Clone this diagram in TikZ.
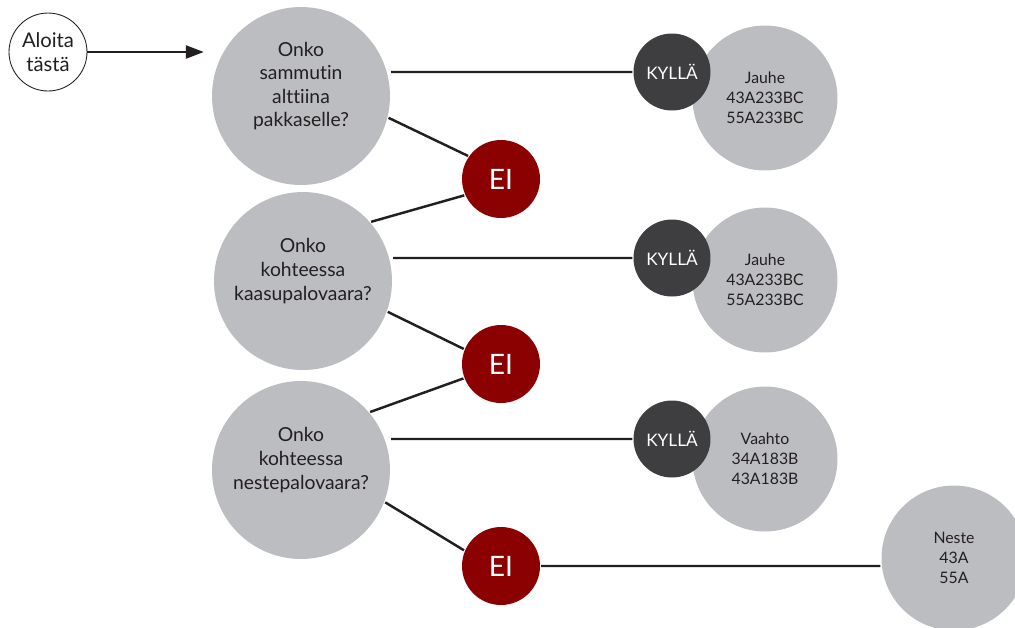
\documentclass[tikz,border=0pt]{standalone}
\usepackage{fontspec}
\setmainfont{Lato}[Ligatures=NoCommon]
\usetikzlibrary{positioning, arrows.meta}
\definecolor{qgray}{HTML}{BCBDC0}
\definecolor{ydark}{HTML}{3E3D3F}
\definecolor{nred}{HTML}{8B0000}
\definecolor{ink}{HTML}{231F20}
\tikzset{
every node/.style={circle, inner sep=0pt, align=center, text=ink},
start/.style={draw, line width=0.5pt, minimum size=1.56cm, font=\fontsize{11.5}{13.7}\selectfont},
question/.style={fill=qgray, minimum size=3.56cm}, % text sits a bit above the centre
qtext/.style={yshift=0.2cm, font=\fontsize{11}{13.4}\selectfont},
ei/.style={fill=nred, minimum size=1.56cm, text=white, font=\fontsize{16}{18}\selectfont},
kylla/.style={fill=ydark, minimum size=1.54cm, text=white, font=\fontsize{9.8}{11}\selectfont},
answer/.style={fill=qgray, minimum size=2.9cm, font=\fontsize{9}{11.4}\selectfont},
}
\begin{document}
\begin{tikzpicture}[x=0.02cm, y=-0.02cm, line width=1.4pt, color=ink]
        \useasboundingbox (0,0) rectangle (1015,627);
        \clip (0,0) rectangle (1015,627);
        \node[start] (alku) at (48,52) {Aloita\\tästä};
        \node[question, label={[qtext]center:Onko\\sammutin\\alttiina\\pakkaselle?}] (q1) at (301,96) {};
        \node[question, label={[qtext]center:Onko\\kohteessa\\kaasupalovaara?}] (q2) at (303,281) {};
        \node[question, label={[qtext]center:Onko\\kohteessa\\nestepalovaara?}] (q3) at (301,470) {};
        \node[ei] (e1) at (501,179) {EI};
        \node[ei] (e2) at (501,364) {EI};
        \node[ei] (e3) at (501,566) {EI};
        \node[answer] (a1) at (765,98) {Jauhe\\43A233BC\\55A233BC};
        \node[answer] (a2) at (765,280) {Jauhe\\43A233BC\\55A233BC};
        \node[answer] (a3) at (765,459) {Vaahto\\34A183B\\43A183B};
        \node[answer] (neste) at (954,558) {Neste\\43A\\55A};
        \node[kylla] (k1) at (672,72) {KYLLÄ};
        \node[kylla] (k2) at (672,258) {KYLLÄ};
        \node[kylla] (k3) at (672,439) {KYLLÄ};
        \draw[-{Triangle[length=3.6mm, width=2.6mm]}, shorten >=0.14cm]
        (alku.east) -- (alku.east -| q1.west);
        \draw (q1.east |- k1) -- (k1.west)
        (q2.east |- k2) -- (k2.west)
        (q3.east |- k3) -- (k3.west)
        (q1.-14) -- (e1.145)
        (e1.204) -- (q2.41)
        (q2.-20) -- (e2.158)
        (e2.201) -- (q3.40)
        (q3.-21) -- (e3.157)
        (e3.east) -- (e3.east -| neste.west)
        ;\end{tikzpicture}
\end{document}
